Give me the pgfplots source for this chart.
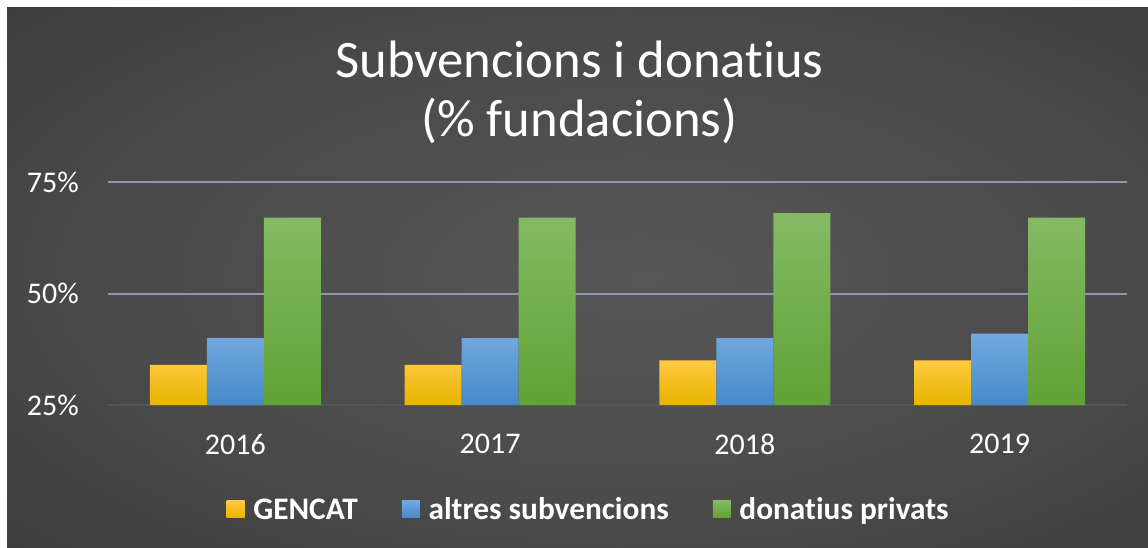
\documentclass[border=0pt]{standalone}
\usepackage{pgfplots}
\pgfplotsset{compat=1.18}
\usepackage{fontspec}
\setmainfont{Carlito}[Ligatures=NoCommon]
\definecolor{bgA}{HTML}{575757}
\definecolor{bgB}{HTML}{4A4A4A}
\definecolor{bgC}{HTML}{363636}
\definecolor{bgD}{HTML}{2A2A2A}
\pgfdeclareradialshading{bgshade}{\pgfpoint{3bp}{0bp}}{color(0bp)=(bgA); color(22bp)=(bgB); color(46bp)=(bgC); color(72bp)=(bgD)}
\definecolor{yT}{HTML}{FFC940}
\definecolor{yM}{HTML}{FFC800}
\definecolor{yB}{HTML}{E6B400}
\definecolor{bT}{HTML}{72A9DE}
\definecolor{bB}{HTML}{4689CA}
\definecolor{gT}{HTML}{84BA64}
\definecolor{gM}{HTML}{6DAF44}
\definecolor{gB}{HTML}{61A236}
\definecolor{gridc}{HTML}{8C99AD}
\definecolor{basec}{HTML}{555555}
\begin{document}
\begin{tikzpicture}
\fill[white] (0pt,0pt) rectangle (861pt,410.25pt);
\shade[shading=bgshade] (5.25pt,0pt) rectangle (861pt,404.25pt);
\node[anchor=base, text=white, font=\fontsize{39.5}{44}\selectfont, inner sep=0pt] at (434.6pt,351.75pt) {Subvencions i donatius};
\node[anchor=base, text=white, font=\fontsize{39.5}{44}\selectfont, inner sep=0pt] at (434.6pt,307.5pt) {(\% fundacions)};
\begin{axis}[
  at={(81pt,106.5pt)}, anchor=south west,
  scale only axis, width=764.25pt, height=167.25pt,
  xmin=-0.5, xmax=3.5, ymin=0, ymax=50,
  ybar=0pt, bar width=42.75pt,
  y filter/.expression={y-25},
  axis x line*=bottom, axis y line*=left,
  y axis line style={draw=none},
  x axis line style={draw=basec, line width=1.5pt},
  major tick length=0pt,
  ymajorgrids, grid style={draw=gridc, line width=1.5pt},
  ytick={25,50}, yticklabels={50\%,75\%},
  extra y ticks={0}, extra y tick labels={25\%},
  extra y tick style={grid=none},
  yticklabel style={text=white, font=\fontsize{22.5}{27}\selectfont, anchor=east, inner sep=0pt, xshift=-21.75pt},
  xtick={0,1,2,3}, xticklabels={2016,2017,2018,2019},
  xticklabel style={text=white, font=\fontsize{22.5}{27}\selectfont, anchor=north, inner sep=0pt, yshift=-21.75pt},
  legend columns=3,
  legend style={at={(0.472,-0.47)}, anchor=center, draw=none, fill=none,
    text=white, font=\bfseries\fontsize{23.5}{28}\selectfont,
    /tikz/every even column/.append style={column sep=31pt}},
  legend image code/.code={\path[#1,draw=none] (0pt,-6pt) rectangle (13.5pt,6.75pt); \path (18pt,0pt);},
]
\addplot[draw=none, top color=yT, middle color=yM, bottom color=yB] coordinates {(0,34) (1,34) (2,35) (3,35)};
\addplot[draw=none, top color=bT, bottom color=bB] coordinates {(0,40) (1,40) (2,40) (3,41)};
\addplot[draw=none, top color=gT, middle color=gM, bottom color=gB] coordinates {(0,67) (1,67) (2,68) (3,67)};
\legend{GENCAT,altres subvencions,donatius privats}
\end{axis}
\pgfresetboundingbox
\useasboundingbox (0pt,0pt) rectangle (861pt,410.25pt);
\end{tikzpicture}
\end{document}
